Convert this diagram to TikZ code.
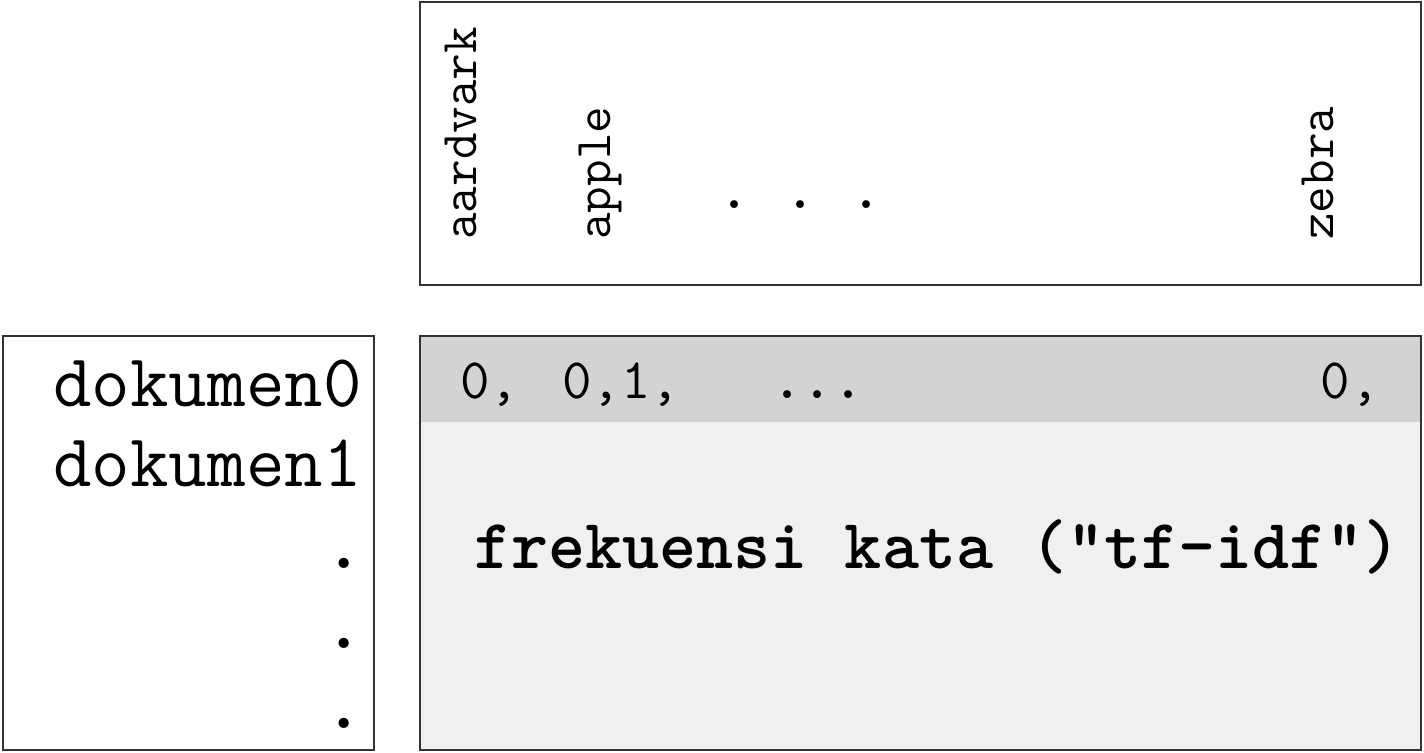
\documentclass[tikz,border=0pt]{standalone}
\usetikzlibrary{positioning}
\definecolor{headgray}{HTML}{D3D3D3}
\definecolor{bodygray}{HTML}{F0F0F0}
\definecolor{edgegray}{HTML}{333333}
\tikzset{
    panel/.style={draw=edgegray, line width=1pt},
    doclabel/.style={anchor=base east, inner sep=0pt, font=\ttfamily\fontsize{37.4}{42}\selectfont},
    wordlabel/.style={rotate=90, anchor=base west, inner sep=0pt, font=\ttfamily\fontsize{25.8}{30}\selectfont},
    cell/.style={inner sep=0pt, font=\ttfamily\fontsize{28.6}{32}\selectfont}
}
\begin{document}
\begin{tikzpicture}[x=0.5pt, y=-0.5pt]
        \useasboundingbox (0,0) rectangle (1424,752);

        % vocabulary box
        \draw[panel, fill=white] (420,2) rectangle (1421,285);
        \node[wordlabel] (aardvark) at (476,240) {aardvark};
        \node[wordlabel] (apple) at (610,240) {apple};
        \node[wordlabel] (zebra) at (1333,240) {zebra};
        \foreach \x/\n in {735/a,801/b,867/c}
            \node[cell, anchor=base, font=\ttfamily\bfseries\fontsize{28.6}{32}\selectfont] (vdot\n) at (\x,208) {.};

        % documents box
        \draw[panel, fill=white] (3,336) rectangle (374,750);
        \node[doclabel] (doc0) at (362,406) {dokumen0};
        \node[doclabel] (doc1) at (362,486) {dokumen1};
        \foreach \y/\n in {568/a,648/b,728/c}
            \node[doclabel, font=\ttfamily\bfseries\fontsize{37.4}{42}\selectfont] (ddot\n) at (364,\y) {.};

        % matrix box
        \fill[bodygray] (420,336) rectangle (1421,750);
        \fill[headgray] (420,336) rectangle (1421,422);
        \draw[panel] (420,336) rectangle (1421,750);
        \node[cell, anchor=base west] (c0) at (460,398) {0,};
        \node[cell, anchor=base west] (c1) at (562,398) {0,1,};
        \node[cell, anchor=base, font=\ttfamily\bfseries\fontsize{28.6}{32}\selectfont] (cdots) at (818,398) {...};
        \node[cell, anchor=base east] (cz) at (1380,398) {0,};
        \node[anchor=base west, inner sep=0pt, font=\ttfamily\bfseries\fontsize{35.3}{40}\selectfont] (tfidf) at (474,568) {frekuensi kata ("tf-idf")};
        \end{tikzpicture}
\end{document}
